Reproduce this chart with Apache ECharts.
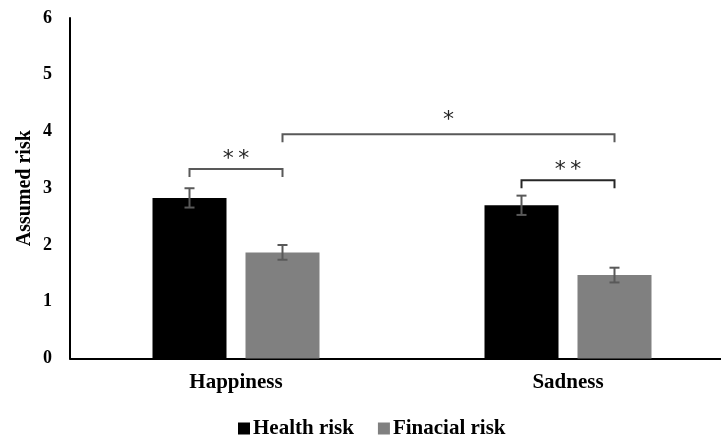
<!DOCTYPE html>
<html><head><meta charset="utf-8">
<script src="https://cdn.jsdelivr.net/npm/echarts@6/dist/echarts.min.js"></script>
<style>html,body{margin:0;padding:0;background:#fff}#c{width:721px;height:437px}</style>
</head><body><div id="c"></div>
<script>
const categories = ['Happiness', 'Sadness'];
const seriesNames = ['Health risk', 'Finacial risk'];
const healthRisk = [2.83, 2.70];
const healthErr = [0.17, 0.17];
const financialRisk = [1.87, 1.47];
const financialErr = [0.13, 0.13];
const yTicks = [0, 1, 2, 3, 4, 5, 6];
// brackets: [catA, seriesA, catB, seriesB, level, label]
const brackets = [
  [0, 0, 0, 1, 3.34, '*\u2009*'],
  [0, 1, 1, 1, 3.95, '*'],
  [1, 0, 1, 1, 3.14, '*\u2009*']
];

const BAR_W = 74, GAP = 19;
const OFF = (BAR_W + GAP) / 2;
const serif = '"Liberation Serif","Times New Roman",serif';
const chart = echarts.init(document.getElementById('c'));

function errSeries(vals, errs, sIdx) {
  return {
    type: 'custom', silent: true, z: 5,
    data: vals.map((v, i) => [i, v, errs[i]]),
    renderItem: (params, api) => {
      const i = api.value(0), v = api.value(1), e = api.value(2);
      const off = sIdx === 0 ? -OFF : OFF;
      const top = api.coord([i, v + e]), bot = api.coord([i, v - e]);
      const x = top[0] + off, cw = 5;
      const st = { stroke: '#595959', lineWidth: 2 };
      return { type: 'group', children: [
        { type: 'line', shape: { x1: x, y1: top[1], x2: x, y2: bot[1] }, style: st },
        { type: 'line', shape: { x1: x - cw, y1: top[1], x2: x + cw, y2: top[1] }, style: st },
        { type: 'line', shape: { x1: x - cw, y1: bot[1], x2: x + cw, y2: bot[1] }, style: st }
      ]};
    }
  };
}

const option = {
  animation: false,
  backgroundColor: '#fff',
  grid: { left: 70, top: 18, right: -13, bottom: 78.5, outerBoundsMode: 'none', containLabel: false },
  legend: {
    data: seriesNames, top: 413, left: 233, icon: 'rect', itemWidth: 12, itemHeight: 12, itemGap: 24,
    textStyle: { fontFamily: serif, fontWeight: 'bold', fontSize: 21, color: '#000', padding: [0, 0, 0, -2] }
  },
  xAxis: {
    type: 'category', data: categories,
    axisLine: { lineStyle: { color: '#000', width: 2 } },
    axisTick: { show: false },
    axisLabel: { fontFamily: serif, fontWeight: 'bold', fontSize: 21, color: '#000', margin: 14 }
  },
  yAxis: {
    type: 'value', min: yTicks[0], max: yTicks[yTicks.length - 1], interval: 1,
    name: 'Assumed risk', nameLocation: 'middle', nameGap: 35, nameRotate: 90, nameMoveOverlap: false,
    nameTextStyle: { fontFamily: serif, fontWeight: 'bold', fontSize: 20, color: '#000' },
    axisLine: { show: true, lineStyle: { color: '#000', width: 2 } },
    axisTick: { show: false }, splitLine: { show: false },
    axisLabel: { fontFamily: serif, fontWeight: 'bold', fontSize: 18, color: '#000', margin: 18 }
  },
  series: [
    { name: seriesNames[0], type: 'bar', data: healthRisk, barWidth: BAR_W, barGap: (GAP / BAR_W * 100) + '%', itemStyle: { color: '#000' } },
    { name: seriesNames[1], type: 'bar', data: financialRisk, barWidth: BAR_W, itemStyle: { color: '#808080' } },
    errSeries(healthRisk, healthErr, 0),
    errSeries(financialRisk, financialErr, 1),
    {
      type: 'custom', silent: true, z: 6,
      data: brackets.map(b => b.slice(0, 5)),
      renderItem: (params, api) => {
        const b = brackets[params.dataIndex];
        const lvl = b[4];
        const pa = api.coord([b[0], lvl]), pb = api.coord([b[2], lvl]);
        const xa = pa[0] + (b[1] === 0 ? -OFF : OFF);
        const xb = pb[0] + (b[3] === 0 ? -OFF : OFF);
        const y = pa[1], leg = 8;
        const st = { stroke: params.dataIndex === 2 ? '#262626' : '#595959', lineWidth: 2, fill: null };
        return { type: 'group', children: [
          { type: 'polyline', shape: { points: [[xa, y + leg], [xa, y], [xb, y], [xb, y + leg]] }, style: st },
          { type: 'text', x: (xa + xb) / 2, y: y + (params.dataIndex === 1 ? -3 : 1), style: { text: b[5], fontSize: 22, fontFamily: '"DejaVu Sans",sans-serif', fill: '#262626', align: 'center', verticalAlign: 'bottom' } }
        ]};
      }
    }
  ]
};
chart.setOption(option);
</script></body></html>
